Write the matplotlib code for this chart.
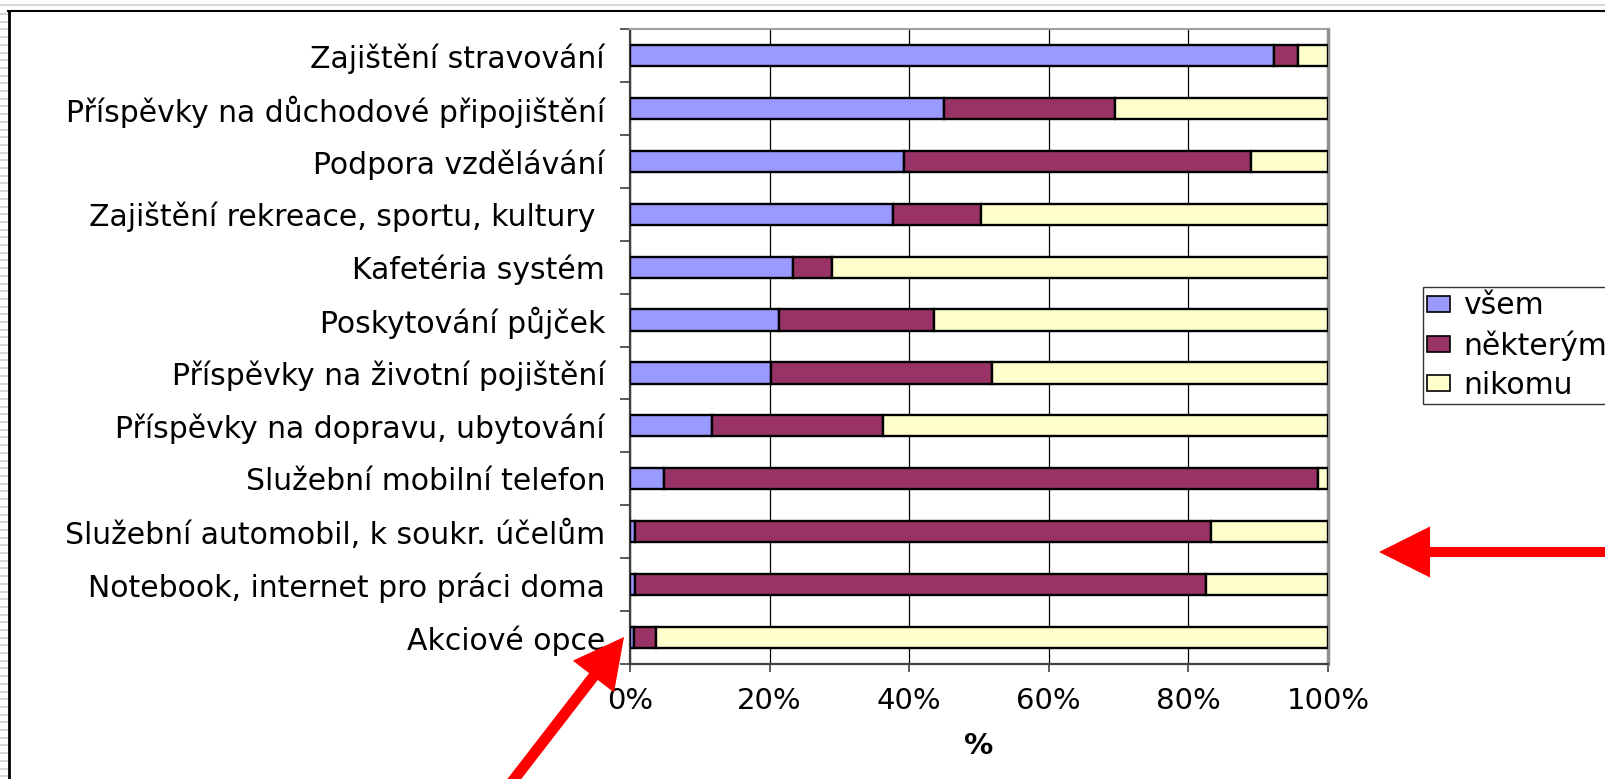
import numpy as np
import matplotlib
matplotlib.use("Agg")
import matplotlib.pyplot as plt
from matplotlib.patches import Patch, Polygon
from matplotlib.lines import Line2D

# ---- data (percent), listed top to bottom ----
categories = [
    "Zajištění stravování",
    "Příspěvky na důchodové připojištění",
    "Podpora vzdělávání",
    "Zajištění rekreace, sportu, kultury ",
    "Kafetéria systém",
    "Poskytování půjček",
    "Příspěvky na životní pojištění",
    "Příspěvky na dopravu, ubytování",
    "Služební mobilní telefon",
    "Služební automobil, k soukr. účelům",
    "Notebook, internet pro práci doma",
    "Akciové opce",
]
vsem = [92.3, 45.0, 39.3, 37.7, 23.3, 21.3, 20.2, 11.7, 4.9, 0.7, 0.7, 0.6]
nekterym = [3.4, 24.5, 49.6, 12.6, 5.7, 22.2, 31.7, 24.5, 93.6, 82.5, 81.8, 3.1]
nikomu = [4.3, 30.5, 11.1, 49.7, 71.0, 56.5, 48.1, 63.8, 1.5, 16.8, 17.5, 96.3]
series_labels = ["všem", "některým", "nikomu"]
xticks = [0, 20, 40, 60, 80, 100]
xtick_labels = ["0%", "20%", "40%", "60%", "80%", "100%"]
x_label = "%"

colors = ["#9999FF", "#993366", "#FFFFCC"]

W, H = 1605, 779
FS = 21.5
FS_X = 21
plt.rcParams["font.family"] = ["DejaVu Sans"]

fig = plt.figure(figsize=(W / 100, H / 100), dpi=100)
fig.patch.set_facecolor("white")

def fx(x):
    return x / W

def fy(y):
    return 1 - y / H

ax_left, ax_right, ax_top, ax_bot = 630, 1328, 29, 664
ax = fig.add_axes([fx(ax_left), fy(ax_bot), (ax_right - ax_left) / W, (ax_bot - ax_top) / H])

n = len(categories)
y = np.arange(n)
left = np.zeros(n)
for vals, c in zip([vsem, nekterym, nikomu], colors):
    ax.barh(y, vals, left=left, height=0.40, color=c, edgecolor="black",
            linewidth=1.7, zorder=3)
    left = left + np.array(vals)

ax.set_xlim(0, 100)
ax.set_ylim(n - 0.5, -0.5)
ax.set_xticks(xticks)
ax.set_xticklabels(xtick_labels, fontsize=FS_X)
ax.set_yticks(y)
ax.set_yticklabels(categories, fontsize=FS)
ax.set_yticks(np.arange(-0.5, n, 1), minor=True)
ax.tick_params(axis="y", which="major", length=0, pad=18)
ax.tick_params(axis="y", which="minor", length=7.2, width=1.2, color="#404040", direction="out")
ax.tick_params(axis="x", which="major", length=5.8, width=1.2, color="#404040", direction="out", pad=11)
ax.xaxis.grid(True, color="black", linewidth=0.9, zorder=0)
ax.set_axisbelow(True)
ax.set_xlabel(x_label, fontsize=FS_X, fontweight="bold", labelpad=12)

for side, col, lw in [("left", "#404040", 1.6), ("bottom", "#404040", 1.6),
                      ("top", "#A0A0A0", 1.5), ("right", "#909090", 2.5)]:
    ax.spines[side].set_color(col)
    ax.spines[side].set_linewidth(lw)

handles = [Patch(facecolor=c, edgecolor="black", linewidth=1.2) for c in colors]
leg = fig.legend(handles, series_labels, loc="upper left",
                 bbox_to_anchor=(fx(1423), fy(287)), bbox_transform=fig.transFigure,
                 frameon=True, fancybox=False, edgecolor="black", fontsize=FS,
                 handlelength=0.75, handleheight=0.45, handletextpad=0.45,
                 labelspacing=0.33, borderpad=0.15, borderaxespad=0)
leg.get_frame().set_linewidth(1.0)

# ---- outer frame decoration ----
fig.add_artist(Line2D([fx(0), fx(W)], [fy(4.5), fy(4.5)], color="#D8D8D8", lw=1.5))
fig.add_artist(Line2D([fx(8), fx(W)], [fy(11), fy(11)], color="black", lw=1.5))
fig.add_artist(Line2D([fx(8.5), fx(8.5)], [fy(11), fy(H)], color="black", lw=2.0))
for yy in np.arange(14, H, 7.7):
    fig.add_artist(Line2D([fx(0), fx(7)], [fy(yy), fy(yy)], color="#D0D0D0", lw=1.2))

# ---- red arrows ----
def arrow(tail, tip, shaft_w, head_w, head_l):
    tail = np.array(tail, float)
    tip = np.array(tip, float)
    d = tip - tail
    L = np.hypot(*d)
    u = d / L
    p = np.array([-u[1], u[0]])
    base = tip - u * head_l
    pts = [tail + p * shaft_w / 2, base + p * shaft_w / 2, base + p * head_w / 2, tip,
           base - p * head_w / 2, base - p * shaft_w / 2, tail - p * shaft_w / 2]
    pts = [(fx(a), fy(b)) for a, b in pts]
    fig.add_artist(Polygon(pts, closed=True, facecolor="red", edgecolor="none",
                           transform=fig.transFigure, zorder=10))

arrow((W + 20, 552), (1379, 552), 10, 51, 51)
arrow((495, 804), (624, 637), 11, 52, 50)

fig.savefig("out.png", dpi=100)
